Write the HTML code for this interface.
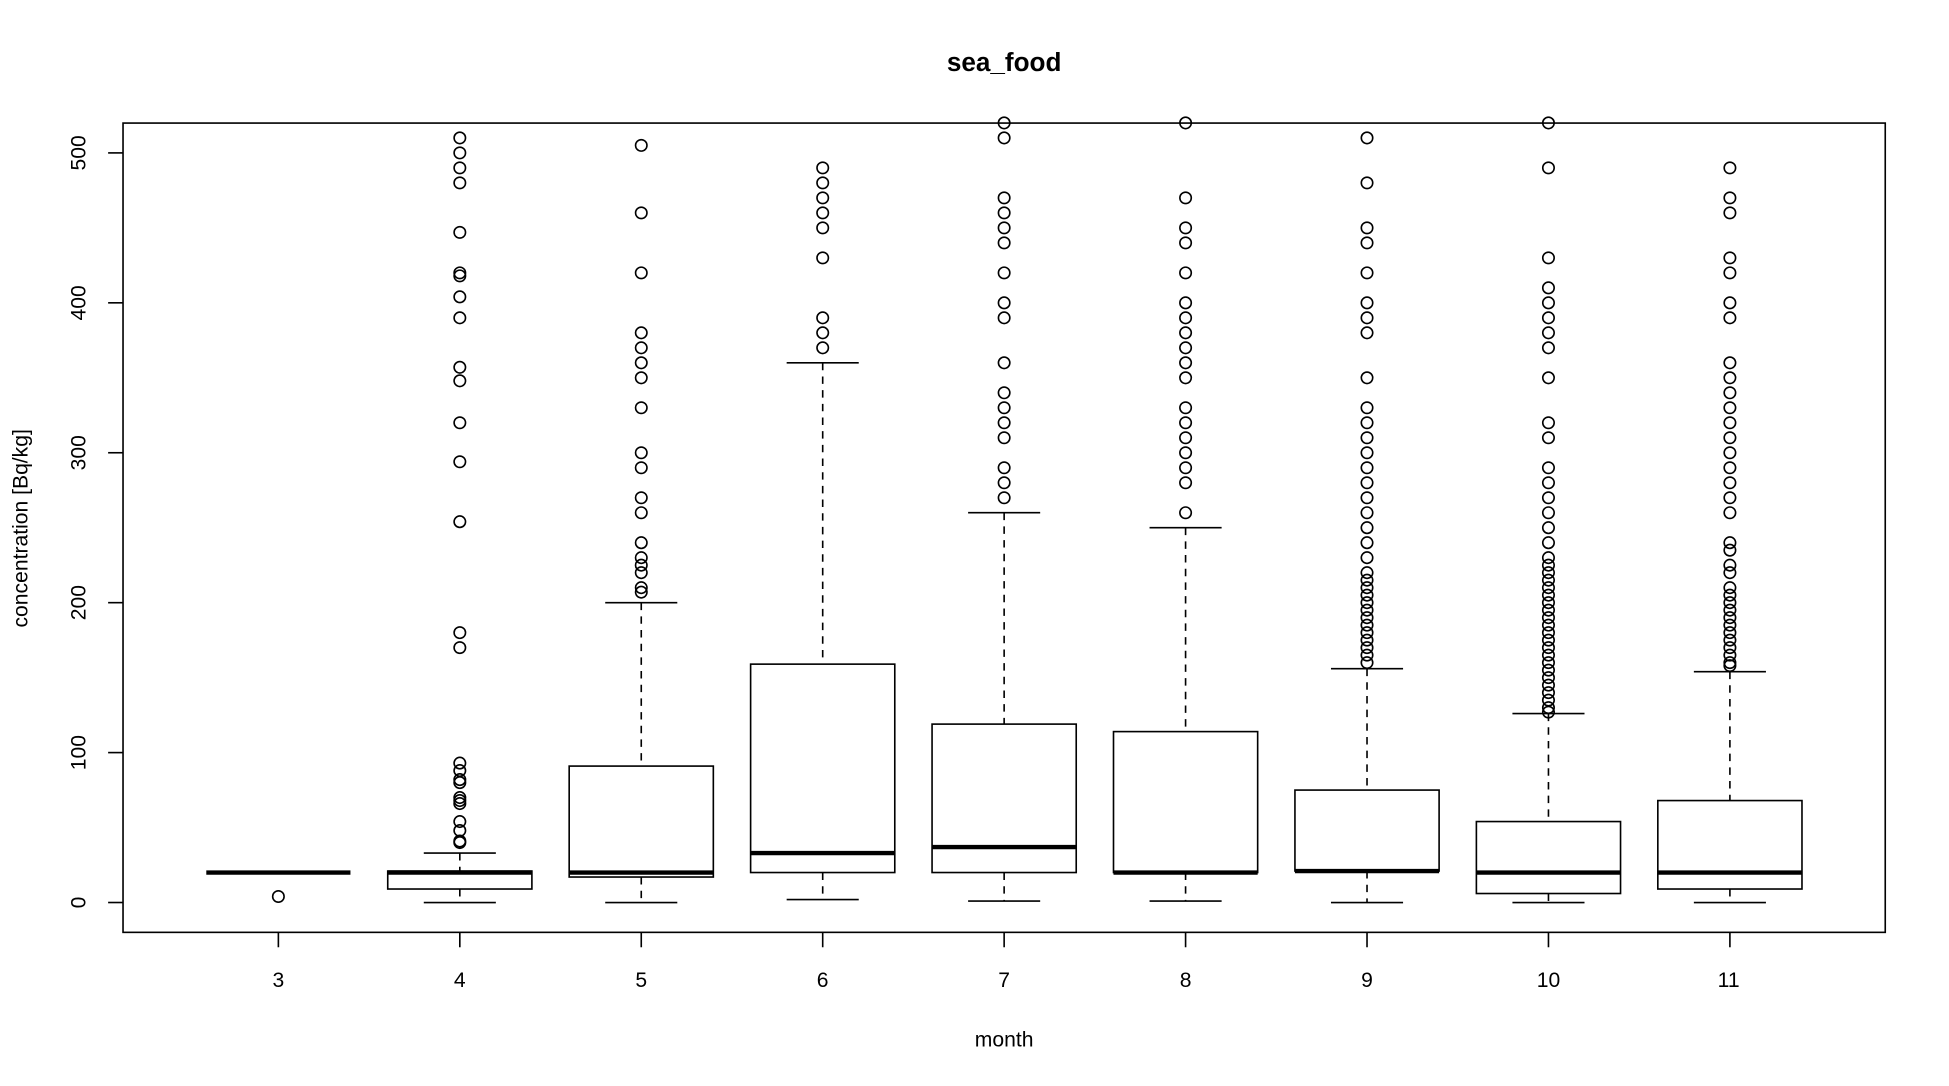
<!DOCTYPE html>
<html><head><meta charset="utf-8"><style>
html,body{margin:0;padding:0;background:#fff;}
svg{display:block;}
text{font-family:"Liberation Sans",Arial,sans-serif;fill:#000;}
</style></head><body>
<svg id="s" width="1949" height="1086" viewBox="0 0 1568.3 873.6" preserveAspectRatio="none" xmlns="http://www.w3.org/2000/svg">
<text x="808" y="57" font-size="21" font-weight="bold" text-anchor="middle">sea_food</text>
<text x="808" y="842" font-size="17" text-anchor="middle">month</text>
<text transform="translate(22,425) rotate(-90)" font-size="17" text-anchor="middle">concentration [Bq/kg]</text>
<rect x="99" y="99" width="1418" height="651" fill="none" stroke="#000" stroke-width="1.3"/>
<g font-size="17" text-anchor="middle">
<text transform="translate(69,726) rotate(-90)">0</text>
<text transform="translate(69,605.4) rotate(-90)">100</text>
<text transform="translate(69,484.8) rotate(-90)">200</text>
<text transform="translate(69,364.2) rotate(-90)">300</text>
<text transform="translate(69,243.6) rotate(-90)">400</text>
<text transform="translate(69,123) rotate(-90)">500</text>
<text x="224" y="794">3</text><text x="370" y="794">4</text><text x="516" y="794">5</text>
<text x="662" y="794">6</text><text x="808" y="794">7</text><text x="954" y="794">8</text>
<text x="1100" y="794">9</text><text x="1246" y="794">10</text><text x="1391" y="794">11</text>
</g>
<g id="g" fill="none" stroke="#000" stroke-width="1.3"></g>
</svg>
<script>
var g=document.getElementById('g'),h='';
function Y(v){return 726-v*1.206;}
function L(x1,y1,x2,y2,w,d){h+='<line x1="'+x1+'" y1="'+y1+'" x2="'+x2+'" y2="'+y2+'"'+(w?' stroke-width="'+w+'"':'')+(d?' stroke-dasharray="'+d+'"':'')+'/>';}
for(var v=0;v<=500;v+=100)L(87,Y(v),99,Y(v));
for(var i=0;i<9;i++)L(224+146*i,750,224+146*i,762);
var B=[
[3,20,20,20,20,20,[4]],
[4,0,9,20,21,33,[510,500,490,480,447,420,418,404,390,357,348,320,294,254,180,170,93,88,82,80,70,68,66,54,48,41,40]],
[5,0,17,20,91,200,[505,460,420,380,370,360,350,330,300,290,270,260,240,230,225,220,210,207]],
[6,2,20,33,159,360,[490,480,470,460,450,430,390,380,370]],
[7,1,20,37,119,260,[520,510,470,460,450,440,420,400,390,360,340,330,320,310,290,280,270]],
[8,1,20,20,114,250,[520,470,450,440,420,400,390,380,370,360,350,330,320,310,300,290,280,260]],
[9,0,21,21,75,156,[510,480,450,440,420,400,390,380,350,330,320,310,300,290,280,270,260,250,240,230,220,215,210,205,200,195,190,185,180,175,170,165,160]],
[10,0,6,20,54,126,[520,490,430,410,400,390,380,370,350,320,310,290,280,270,260,250,240,230,225,220,215,210,205,200,195,190,185,180,175,170,165,160,155,150,145,140,135,130,127]],
[11,0,9,20,68,154,[490,470,460,430,420,400,390,360,350,340,330,320,310,300,290,280,270,260,240,235,225,220,210,205,200,195,190,185,180,175,170,165,160,158]]];
B.forEach(function(b){
 var x=224+146*(b[0]-3),lo=b[1],q1=b[2],m=b[3],q3=b[4],hi=b[5];
 if(b[0]==3){L(x-58,Y(m),x+58,Y(m),3.5);}
 else{
  L(x,Y(hi),x,Y(q3),0,'6,5');L(x,Y(q1),x,Y(lo),0,'6,5');
  L(x-29,Y(hi),x+29,Y(hi));L(x-29,Y(lo),x+29,Y(lo));
  h+='<rect x="'+(x-58)+'" y="'+Y(q3)+'" width="116" height="'+(Y(q1)-Y(q3))+'" fill="#fff"/>';
  L(x-58,Y(m),x+58,Y(m),3.5);
 }
 b[6].forEach(function(o){h+='<circle cx="'+x+'" cy="'+Y(o)+'" r="4.6"/>';});
});
g.innerHTML=h;
</script>
</body></html>
